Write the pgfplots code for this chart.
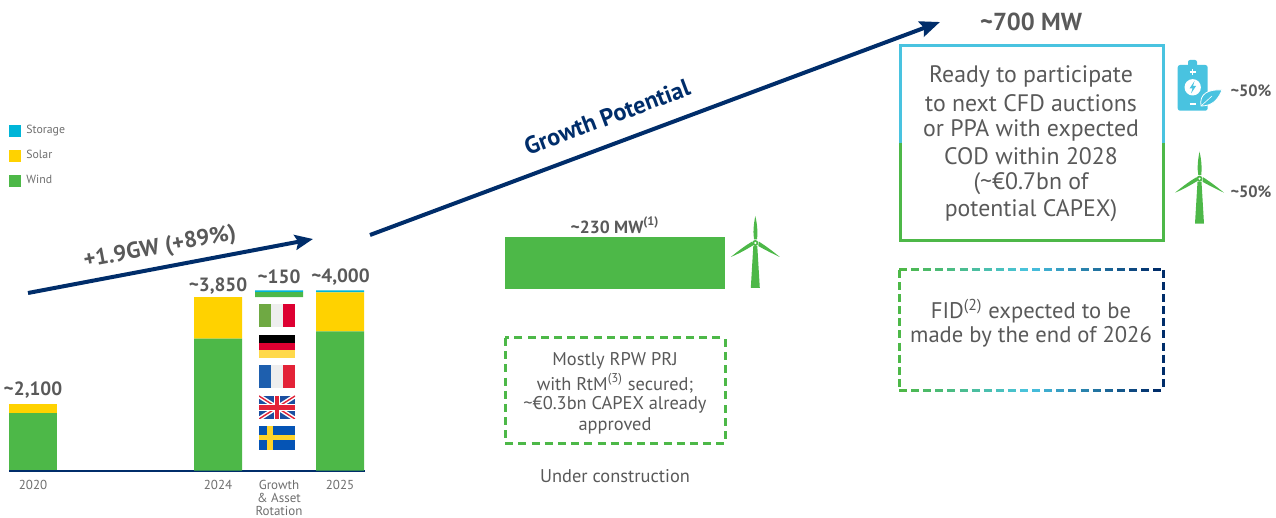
\documentclass[border=0pt]{standalone}
\usepackage{fontspec}
\setmainfont{PT Sans}
\usepackage{pgfplots}
\pgfplotsset{compat=1.18}
\usetikzlibrary{arrows.meta}
\definecolor{wind}{HTML}{4DB848}
\definecolor{solar}{HTML}{FFD200}
\definecolor{storage}{HTML}{00B5D8}
\definecolor{sky}{HTML}{49C3E0}
\definecolor{navy}{HTML}{002D6A}
\definecolor{txt}{HTML}{595959}
\definecolor{soft}{HTML}{6E6E6E}
\definecolor{flaggreen}{HTML}{6FA943}
\definecolor{flagwhite}{HTML}{EEEEEE}
\definecolor{flagred}{HTML}{DD0031}
\definecolor{flagamber}{HTML}{FFD94A}
\definecolor{flagblue}{HTML}{1E5FAE}
\definecolor{flagfrred}{HTML}{E32237}
\definecolor{flagukblue}{HTML}{1C4FA0}
\definecolor{flagseblue}{HTML}{0554B5}
\definecolor{flagseyellow}{HTML}{FFD42A}
\newcommand{\fs}[1]{\fontsize{#1}{#1}\selectfont}
\tikzset{
  turbine/.pic={
    \fill[wind] (-4.5,45) -- (4.5,45) -- (2,3) -- (-2,3) -- cycle;
    \fill[wind] (0,-27) .. controls (2.2,-18) and (2.4,-10) .. (1.8,-3.5) -- (-1.2,-3.5) .. controls (-2.4,-10) and (-1.8,-18) .. (0,-27) -- cycle;
    \fill[wind] (-24.5,14) .. controls (-16,7) and (-9,2) .. (-3,-1.5) -- (-2,2.2) .. controls (-9,6.5) and (-16,10.5) .. (-24.5,14) -- cycle;
    \fill[wind] (24.5,14) .. controls (17,10.5) and (9,6.5) .. (3,3) -- (3.5,-1.5) .. controls (9,2) and (16,7) .. (24.5,14) -- cycle;
    \fill[wind] (0,0) circle (3);
    \fill[white] (0,0) circle (1.2);
  }
}
\begin{document}
\begin{tikzpicture}[x=0.5pt,y=-0.5pt]
\path[use as bounding box] (0,0) rectangle (1276,518);

% 2024, growth step and 2025, on a common MW scale
\begin{axis}[
  at={(4.5pt,-235.25pt)}, anchor=south west,
  scale only axis, width=178pt, height=90pt,
  xmin=9, xmax=365, ymin=0, ymax=4000,
  clip=false,
  ybar stacked, bar width=24pt,
  axis x line*=bottom, axis y line=none,
  axis line style={navy,line width=1pt,-},
  major tick length=0pt,
  xtick={33,218,279,340},
  xticklabels={2020,2024,{Growth\\\& Asset\\Rotation},2025},
  xticklabel style={align=center,font=\fs{6.5},text=soft,yshift=-3.6pt,inner sep=1pt},
  legend image code/.code={\fill[#1,draw=none] (0pt,-3pt) rectangle (6pt,3pt);},
  legend style={at={(0,1.922)},anchor=north west,draw=none,fill=none,font=\fs{5.9},
    text=soft,row sep=6.4pt,inner sep=0pt,/tikz/column sep=2.5pt,
    nodes={inner sep=0pt,anchor=west}},
  reverse legend,
]
\addplot[draw=none,fill=none,forget plot] coordinates {(218,0) (279,3850) (340,0)};
\addplot[draw=none,fill=wind] coordinates {(218,2930) (279,115) (340,3090)};
\addlegendentry{Wind}
\addplot[draw=none,fill=solar] coordinates {(218,920) (279,0) (340,870)};
\addlegendentry{Solar}
\addplot[draw=none,fill=storage] coordinates {(218,0) (279,35) (340,40)};
\addlegendentry{Storage}
\end{axis}

% 2020 bar
\begin{axis}[
  at={(4.5pt,-235.25pt)}, anchor=south west,
  scale only axis, width=178pt, height=33.5pt,
  xmin=9, xmax=365, ymin=0, ymax=2100,
  hide axis, ybar stacked, bar width=24pt,
]
\addplot[draw=none,fill=wind] coordinates {(33,1790)};
\addplot[draw=none,fill=solar] coordinates {(33,310)};
\end{axis}

% Under-construction block
\begin{axis}[
  at={(252.5pt,-144.5pt)}, anchor=south west,
  scale only axis, width=110pt, height=26pt,
  xmin=0, xmax=1, ymin=0, ymax=230,
  hide axis, ybar, bar width=110pt, bar shift=0pt,
]
\addplot[draw=none,fill=wind] coordinates {(0.5,230)};
\end{axis}

% Value labels
\begin{scope}[every node/.style={text=txt,font=\fs{9.6}\bfseries,inner sep=0pt}]
\node at (33,390) {\textasciitilde2,100};
\node at (218,286) {\textasciitilde3,850};
\node at (279,277) {\textasciitilde150};
\node at (340.5,277) {\textasciitilde4,000};
\node[font=\fs{8.8}\bfseries] at (615,225) {\textasciitilde230 MW\textsuperscript{(1)}};
\node[font=\fs{12.3}\bfseries] at (1031,22) {\textasciitilde700 MW};
\node[font=\fs{8.2}\bfseries] at (1251,91) {\textasciitilde50\%};
\node[font=\fs{8.2}\bfseries] at (1251,192) {\textasciitilde50\%};
\end{scope}

% Country flags of the growth step
\fill[flaggreen] (259,304) rectangle (271,327);
\fill[flagwhite] (271,304) rectangle (283,327);
\fill[flagred] (283,304) rectangle (295,327);
\fill[black] (259,335) rectangle (295,343);
\fill[flagred] (259,343) rectangle (295,350.5);
\fill[flagamber] (259,350.5) rectangle (295,358);
\fill[flagblue] (259,365) rectangle (271,388);
\fill[flagwhite] (271,365) rectangle (283,388);
\fill[flagfrred] (283,365) rectangle (295,388);
\begin{scope}
\clip (259,396) rectangle (295,419);
\fill[flagukblue] (259,396) rectangle (295,419);
\draw[white,line width=2.2pt] (259,396) -- (295,419) (259,419) -- (295,396);
\draw[flagfrred,line width=0.7pt] (259,396) -- (295,419) (259,419) -- (295,396);
\draw[white,line width=3.4pt] (277,396) -- (277,419) (259,407.5) -- (295,407.5);
\draw[flagfrred,line width=2.2pt] (277,396) -- (277,419) (259,407.5) -- (295,407.5);
\end{scope}
\fill[flagseblue] (259,426) rectangle (295,450);
\fill[flagseyellow] (267,426) rectangle (272.5,450);
\fill[flagseyellow] (259,435.5) rectangle (295,440.5);

% Growth arrows and their captions
\draw[navy,line width=2pt,-{Stealth[length=9pt,width=7.5pt,inset=1.5pt]}] (28,293) -- (313,239);
\node[rotate=10.7,text=txt,font=\fs{11.4}\bfseries,inner sep=0pt] at (160,248) {+1.9GW (+89\%)};
\draw[navy,line width=2pt,-{Stealth[length=10pt,width=8pt,inset=1.5pt]}] (370,235) -- (940,22);
\node[rotate=20.5,text=navy,font=\fs{12.1}\bfseries,inner sep=0pt] at (607,117) {Growth Potential};

% Pipeline frame, storage half over wind half
\draw[sky,line width=1.5pt] (900,143) -- (900,46) -- (1163,46) -- (1163,143);
\draw[wind,line width=1.5pt] (900,143) -- (900,240.5) -- (1163,240.5) -- (1163,143);
\begin{scope}[every node/.style={text=txt,font=\fs{11.9},inner sep=0pt}]
\node at (1031,76.5) {Ready to participate};
\node at (1031,103.5) {to next CFD auctions};
\node at (1031,130) {or PPA with expected};
\node at (1031,156.5) {COD within 2028};
\node at (1031,183.5) {(\textasciitilde€0.7bn of};
\node at (1031,210.5) {potential CAPEX)};
\node[font=\fs{11.3}] at (1031,311) {FID\textsuperscript{(2)} expected to be};
\node[font=\fs{11.3}] at (1031,337) {made by the end of 2026};
\end{scope}

% Dashed note under the block
\draw[wind,line width=1.5pt,dash pattern=on 4pt off 2.6pt] (505,338) rectangle (725,443.5);
\begin{scope}[every node/.style={text=txt,font=\fs{9.2},inner sep=0pt}]
\node at (615,361) {Mostly RPW PRJ};
\node at (615,383) {with RtM\textsuperscript{(3)} secured;};
\node at (615,405) {\textasciitilde€0.3bn CAPEX already};
\node at (615,426) {approved};
\node at (615,476) {Under construction};
\end{scope}

% Dashed frame running from green through blue to navy
\foreach \s in {0,...,21}{
  \pgfmathsetmacro{\xa}{899+\s*12.1}
  \pgfmathsetmacro{\xb}{\xa+8}
  \pgfmathsetmacro{\t}{\s/21}
  \pgfmathtruncatemacro{\pa}{\t<0.5 ? 100-200*\t : 200-200*\t}
  \ifdim\t pt<0.5pt
    \colorlet{dashc}{wind!\pa!sky}
  \else
    \colorlet{dashc}{sky!\pa!navy}
  \fi
  \draw[dashc,line width=1.3pt] (\xa,269.5) -- (\xb,269.5);
  \draw[dashc,line width=1.3pt] (\xa,390.5) -- (\xb,390.5);
}
\foreach \s in {0,...,9}{
  \pgfmathsetmacro{\ya}{270+\s*12.1}
  \pgfmathsetmacro{\yb}{\ya+8}
  \draw[wind,line width=1.3pt] (899.5,\ya) -- (899.5,\yb);
  \draw[navy,line width=1.3pt] (1163.5,\ya) -- (1163.5,\yb);
}

% Turbine icons
\pic at (755.3,243) {turbine};
\pic at (1199.5,178.7) {turbine};

% Battery icon
\fill[sky,rounded corners=1pt] (1188,60) rectangle (1197,68);
\fill[sky,rounded corners=1.2pt] (1177.7,65) rectangle (1207.7,110.7);
\fill[white] (1192.7,87.3) circle (8.2);
\fill[sky] (1194.5,81) -- (1189.5,88.5) -- (1192.5,88.5) -- (1191,93.5) -- (1196,86) -- (1193,86) -- cycle;
\draw[white,line width=0.6pt] (1192.7,69) -- (1192.7,75) (1189.7,72) -- (1195.7,72);
\draw[white,line width=0.6pt] (1189.7,104) -- (1195.7,104);
\fill[sky,draw=white,line width=0.4pt] (1201,106) .. controls (1199,94) and (1208,89) .. (1222,90) .. controls (1218,100) and (1212,106) .. (1201,106) -- cycle;
\draw[white,line width=0.3pt] (1201,106) -- (1212,96);
\end{tikzpicture}
\end{document}
